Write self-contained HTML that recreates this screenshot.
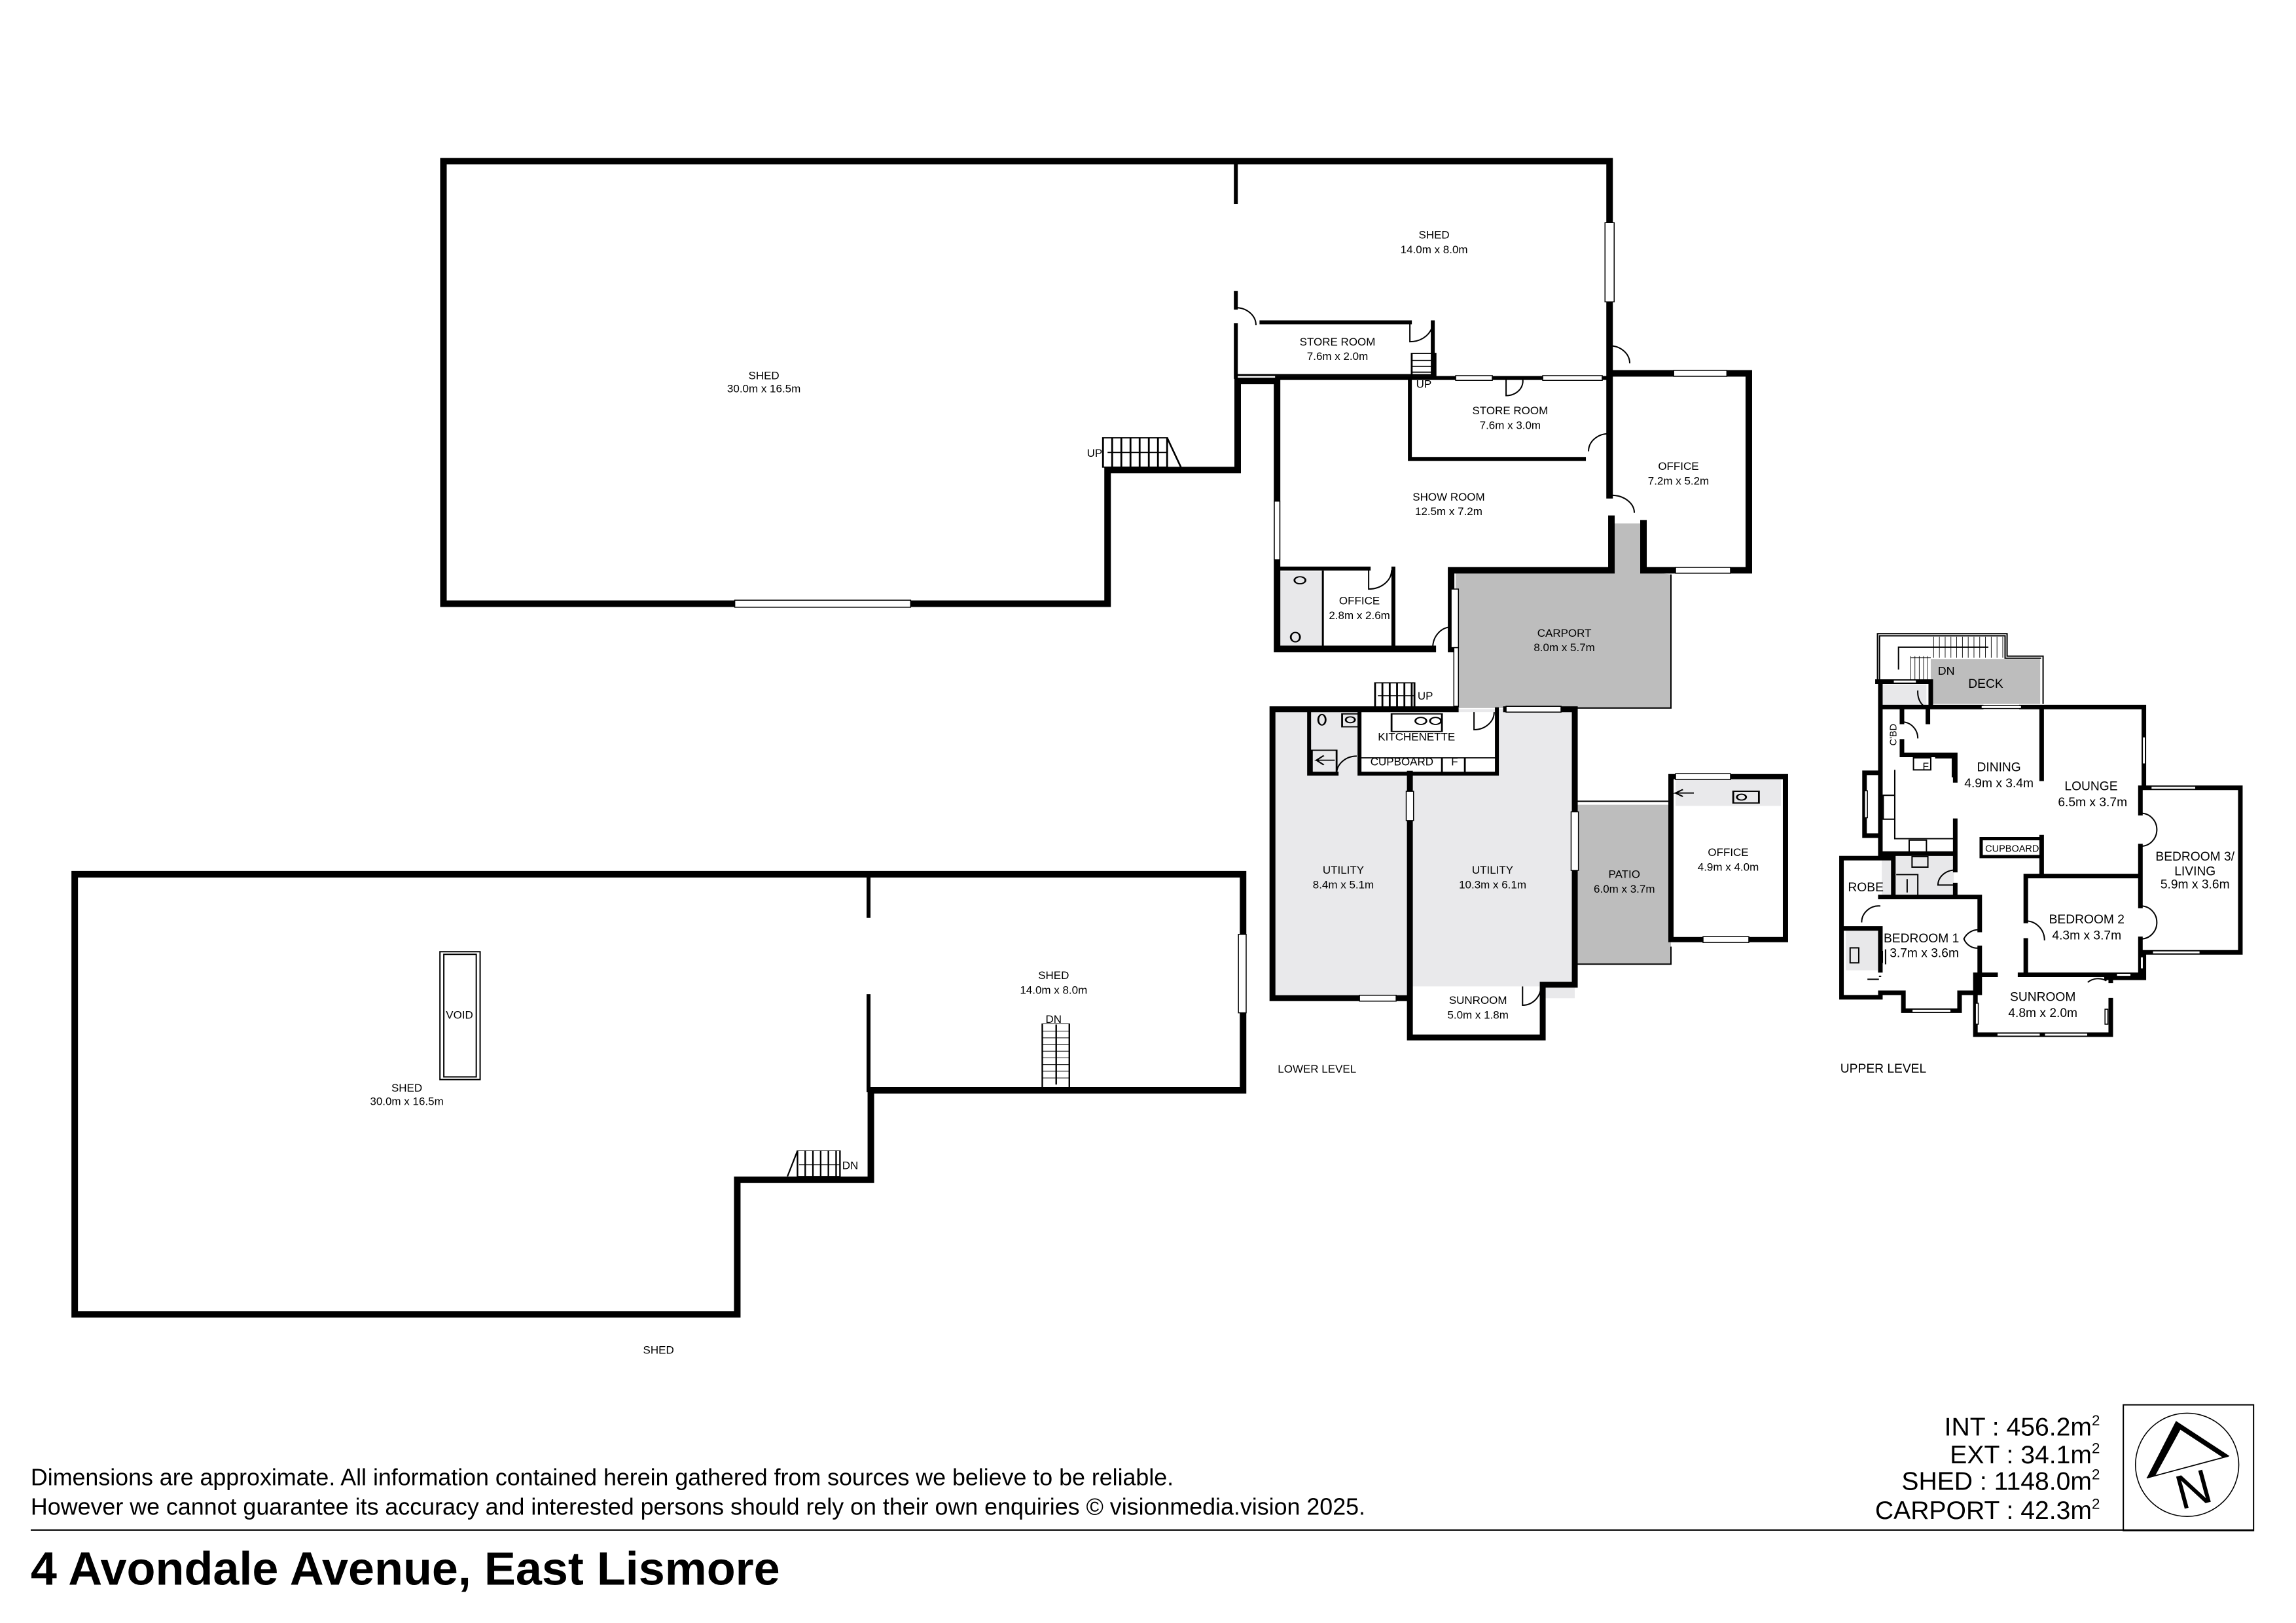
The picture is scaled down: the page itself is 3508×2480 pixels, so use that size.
<!DOCTYPE html>
<html><head><meta charset="utf-8"><style>
html,body{margin:0;padding:0;background:#fff}
svg{display:block}
text{font-family:"Liberation Sans",sans-serif;fill:#000}
.w{fill:none;stroke:#000;vector-effect:non-scaling-stroke;stroke-linecap:square}
.t{fill:none;stroke:#000;stroke-width:2;vector-effect:non-scaling-stroke}
.win{fill:#fff;stroke:#000;stroke-width:1.5;vector-effect:non-scaling-stroke}
.l{font-size:7.6px;text-anchor:middle}
.u{font-size:8.6px;text-anchor:middle}
</style></head><body>
<svg width="3508" height="2480" viewBox="0 0 1569 1109" xmlns="http://www.w3.org/2000/svg">
<rect width="1569" height="1109" fill="#fff"/>

<g transform="translate(268.6,90) scale(0.626,0.4006)">
 <rect x="968" y="750" width="47" height="130" fill="#e8e8ea"/>
 <polygon points="1160,748 1330,748 1330,668 1365,668 1365,750 1395,755 1395,983 1160,983" fill="#bdbdbd"/>
 <rect x="960" y="985" width="330" height="493" fill="#e9e9eb"/>
 <rect x="1055" y="990" width="150" height="105" fill="#fff"/>
 <rect x="1110" y="1458" width="145" height="87" fill="#fff"/>
 <rect x="1290" y="1148" width="105" height="272" fill="#bdbdbd"/>
 <rect x="1400" y="1105" width="115" height="45" fill="#e9e9eb"/>
 <path class="t" d="M1292,1142 H1395 M1292,1420 H1395 V1390 M1395,755 V983 H1290" />
 <path class="w" stroke-width="10" d="M55,50 H1328 V412 M55,50 V805 H780 V577 H922 V425 H965 V882 H1135 M1155,882 V748 H1330 V660 M1365,668 V748 H1480 V412 H1328 V620"/>
 <path class="w" stroke-width="6" d="M920,55 V120 M920,275 V300 M920,330 V418 M948,325 H1110 M1135,325 V415 M965,420 H1328 M1110,420 V558 H1300 M965,745 H1065 M1092,745 V882"/>
 <path class="w" stroke-width="3" d="M920,415 H1135 M1015,750 V882"/>
 <path class="w" stroke-width="9" d="M960,985 H1160 M1215,985 H1290 V1455 H1255 M960,985 V1478 H1110 M1110,1095 V1545 H1255 V1455"/>
 <path class="w" stroke-width="6" d="M1000,985 V1095 H1030 M1055,1095 H1205 V985 M1055,990 V1095"/>
 <path class="w" stroke-width="8" d="M1395,1100 H1520 V1378 H1395 Z"/>
 <rect class="win" x="373" y="799" width="192" height="12"/>
 <rect class="win" x="1323" y="155" width="10" height="135"/>
 <rect class="win" x="962" y="630" width="6" height="100"/>
 <rect class="win" x="1398" y="407" width="58" height="10"/>
 <rect class="win" x="1400" y="743" width="60" height="10"/>
 <rect class="win" x="1215" y="980" width="60" height="10"/>
 <rect class="win" x="1055" y="1473" width="40" height="10"/>
 <rect class="win" x="1160" y="416" width="40" height="8"/>
 <rect class="win" x="1255" y="416" width="65" height="8"/>
 <rect class="win" x="1106" y="1125" width="8" height="50"/>
 <rect class="win" x="1286" y="1160" width="8" height="100"/>
 <rect class="win" x="1155" y="780" width="8" height="100"/>
 <rect class="win" x="1158" y="880" width="5" height="100"/>
 <rect class="win" x="1400" y="1095" width="60" height="10"/>
 <rect class="win" x="1430" y="1373" width="50" height="10"/>
 <path class="t" d="M920,300 A22,30 0 0 1 942,330 M1110,325 V358 A25,33 0 0 0 1135,325 M1328,365 A22,30 0 0 1 1350,395 M1215,420 V450 A18,25 0 0 0 1233,420 M1328,515 A22,30 0 0 0 1305,545 M1330,620 A25,30 0 0 1 1355,650 M1065,748 V780 A25,32 0 0 0 1090,748 M1135,880 A20,35 0 0 1 1155,845 M1180,990 V1020 A22,30 0 0 0 1202,990 M1233,1458 V1490 A20,32 0 0 0 1253,1458 M1030,1095 A22,30 0 0 1 1052,1065"/>
 <g class="t"><rect x="775" y="522" width="70" height="50"/>
 <path d="M785,522V572M795,522V572M805,522V572M815,522V572M825,522V572M835,522V572M845,522 L860,572 M780,547 H845"/>
 <rect x="1072" y="940" width="43" height="45"/>
 <path d="M1080,940V985M1088,940V985M1096,940V985M1104,940V985M1112,940V985M1075,962H1115"/>
 <rect x="1112" y="378" width="26" height="40"/>
 <path d="M1112,390H1138M1112,400H1138M1112,410H1138"/></g>
 <g class="t"><circle cx="990" cy="765" r="6"/><ellipse cx="985" cy="862" rx="5" ry="8"/>
 <rect x="1090" y="993" width="55" height="30"/><circle cx="1122" cy="1005" r="6"/><circle cx="1138" cy="1005" r="6"/>
 <path d="M1055,1068 H1205 M1145,1068 V1095 M1170,1068 V1095"/>
 <rect x="1003" y="1055" width="27" height="38"/><path d="M1028,1072 H1008 l8,-8 M1008,1072 l8,8"/>
 <rect x="1036" y="993" width="18" height="22"/><circle cx="1045" cy="1003" r="5"/><ellipse cx="1014" cy="1003" rx="4" ry="9"/>
 <rect x="1463" y="1125" width="28" height="20"/><circle cx="1472" cy="1135" r="5"/><path d="M1420,1128 H1400 l8,-6 M1400,1128 l8,6"/></g>
</g>

<g transform="translate(44.72,581.4) scale(0.5277,0.2282)">
 <path class="w" stroke-width="10" d="M12,70 H1525 V717 H1043 V985 H870 V1388 H12 Z"/>
 <path class="w" stroke-width="6" d="M1040,75 V195 M1040,435 V717"/>
 <rect class="win" x="1519" y="250" width="10" height="235"/>
 <rect class="t" x="485" y="302" width="52" height="383"/>
 <rect class="t" x="490" y="310" width="42" height="367"/>
 <g class="t"><rect x="1265" y="518" width="35" height="192"/>
 <path d="M1265,540H1300M1265,560H1300M1265,580H1300M1265,600H1300M1265,620H1300M1265,640H1300M1265,660H1300M1265,680H1300M1283,520V700"/>
 <rect x="948" y="898" width="55" height="77"/>
 <path d="M958,898V975M968,898V975M978,898V975M988,898V975M998,898V975M948,898 L935,975 M950,940H1003"/></g>
</g>

<g transform="translate(1252.5,424.8) scale(0.1968,0.2045)">
 <rect x="340" y="125" width="380" height="150" fill="#bdbdbd"/>
 <rect x="170" y="210" width="155" height="75" fill="#e8e8ea"/>
 <rect x="170" y="780" width="250" height="135" fill="#e8e8ea"/>
 <rect x="45" y="1030" width="115" height="135" fill="#e8e8ea"/>
 <path class="t" d="M155,195 V40 H605 V115 H730 V275 M162,195 V47 H598 V122 H723 M228,160 V85 H540"/>
 <g class="t"><path d="M270,115V200M285,115V200M300,115V200M315,115V200M330,115V200M350,50V120M370,50V120M390,50V120M410,50V120M430,50V120M450,50V120M470,50V120M490,50V120M510,50V120M530,50V120M550,50V120M570,50V120M590,50V120M270,120H340"/></g>
 <path class="w" stroke-width="7" d="M155,200 H340 V285 M165,200 V790 M165,285 H330 M330,285 H515 M655,285 H1080 V555 M330,285 V335 M240,295 V335 M240,400 V445 H425 V530 M425,665 V775 H165 M425,775 V830 M425,880 V915 M725,285 V525 M725,720 V845 M1080,555 H1415 V1105 H1080 V1190 H950 M1068,555 V640 M1068,750 V950 M1068,1060 V1180 M670,850 H1068 M670,850 V1000 M670,1065 V1180 H1068 M165,920 H510 V1030 M510,1090 V1180 H565 M510,1180 V1240 H440 V1300 H245 V1240 H165 V1255 M30,790 H210 V915 M30,790 V1255 H165 M30,1025 H165 V1165 M495,1180 V1380 H965 V1265 M965,1190 V1200 M650,1180 H965 M165,505 H110 V715 H165"/>
 <rect x="515" y="725" width="210" height="60" class="w" stroke-width="5"/>
 <rect class="win" x="515" y="280" width="140" height="10"/>
 <rect class="win" x="210" y="195" width="80" height="10"/>
 <rect class="win" x="1075" y="385" width="10" height="90"/>
 <rect class="win" x="1105" y="550" width="155" height="10"/>
 <rect class="win" x="1110" y="1100" width="165" height="10"/>
 <rect class="win" x="275" y="1295" width="135" height="10"/>
 <rect class="win" x="570" y="1375" width="150" height="10"/>
 <rect class="win" x="735" y="1375" width="150" height="10"/>
 <rect class="win" x="495" y="1275" width="10" height="70"/>
 <rect class="win" x="945" y="1295" width="10" height="50"/>
 <rect class="win" x="985" y="1175" width="50" height="10"/>
 <rect class="win" x="1068" y="1120" width="10" height="40"/>
 <rect class="win" x="110" y="565" width="10" height="90"/>
 <path class="t" d="M330,285 A35,50 0 0 1 295,230 M240,335 A55,55 0 0 1 295,390 M1068,640 A55,55 0 0 1 1125,695 A55,55 0 0 1 1068,750 M1068,950 A55,55 0 0 1 1125,1005 A55,55 0 0 1 1068,1060 M670,1000 A65,65 0 0 1 735,1065 M510,1030 A55,55 0 0 0 455,1060 A50,50 0 0 0 510,1090 M165,950 A60,55 0 0 0 100,1005 M425,830 A60,50 0 0 0 365,880 H425 M950,1200 A60,60 0 0 0 885,1205 M280,455 H340 V495 H280 Z M355,455 H415 V520 M175,580 H215 V660 H175 Z M265,730 H325 V770 H265 Z M275,785 H330 V820 H275 Z M220,845 H295 V915 M258,860 V905 M168,1185 H160 M120,1195 H160 M60,1090 H90 V1140 H60 Z M215,495 V725 H425 M172,1100 V1140 M183,1095 V1145"/>
</g>

<g class="l">
<text x="980" y="163">SHED</text><text x="980" y="173">14.0m x 8.0m</text>
<text x="522" y="259">SHED</text><text x="522" y="268">30.0m x 16.5m</text>
<text x="914" y="236">STORE ROOM</text><text x="914" y="246">7.6m x 2.0m</text>
<text x="1032" y="283">STORE ROOM</text><text x="1032" y="293">7.6m x 3.0m</text>
<text x="1147" y="321">OFFICE</text><text x="1147" y="331">7.2m x 5.2m</text>
<text x="990" y="342">SHOW ROOM</text><text x="990" y="352">12.5m x 7.2m</text>
<text x="929" y="413">OFFICE</text><text x="929" y="423">2.8m x 2.6m</text>
<text x="1069" y="435">CARPORT</text><text x="1069" y="445">8.0m x 5.7m</text>
<text x="918" y="597">UTILITY</text><text x="918" y="607">8.4m x 5.1m</text>
<text x="1020" y="597">UTILITY</text><text x="1020" y="607">10.3m x 6.1m</text>
<text x="1110" y="600">PATIO</text><text x="1110" y="610">6.0m x 3.7m</text>
<text x="1181" y="585">OFFICE</text><text x="1181" y="595">4.9m x 4.0m</text>
<text x="1010" y="686">SUNROOM</text><text x="1010" y="696">5.0m x 1.8m</text>
<text x="720" y="669">SHED</text><text x="720" y="679">14.0m x 8.0m</text>
<text x="720" y="699">DN</text>
<text x="278" y="746">SHED</text><text x="278" y="755">30.0m x 16.5m</text>
<text x="314" y="696">VOID</text>
<text x="581" y="799">DN</text>
<text x="450" y="925">SHED</text>
<text x="748" y="312">UP</text>
<text x="973" y="265">UP</text>
<text x="974" y="478">UP</text>
<text x="968" y="506">KITCHENETTE</text>
<text x="958" y="523">CUPBOARD</text><text x="994" y="523">F</text>
<text x="900" y="733">LOWER LEVEL</text>
</g>
<g class="u">
<text x="1330" y="461" style="font-size:8px">DN</text>
<text x="1357" y="470">DECK</text>
<text x="1366" y="527">DINING</text><text x="1366" y="538">4.9m x 3.4m</text>
<text x="1429" y="540">LOUNGE</text><text x="1430" y="551">6.5m x 3.7m</text>
<text x="1500" y="588">BEDROOM 3/</text><text x="1500" y="598">LIVING</text><text x="1500" y="607">5.9m x 3.6m</text>
<text x="1426" y="631">BEDROOM 2</text><text x="1426" y="642">4.3m x 3.7m</text>
<text x="1313" y="644">BEDROOM 1</text><text x="1315" y="654">3.7m x 3.6m</text>
<text x="1275" y="609">ROBE</text>
<text x="1396" y="684">SUNROOM</text><text x="1396" y="695">4.8m x 2.0m</text>
<text x="1375" y="582" style="font-size:6.5px">CUPBOARD</text>
<text x="1316" y="526" style="font-size:7px">F</text>
<text x="1296" y="502" style="font-size:6.5px" transform="rotate(-90 1296 502)">C'BD</text>
<text x="1287" y="733" style="font-size:8.6px">UPPER LEVEL</text>
</g>

<text x="21" y="1015" style="font-size:16px" textLength="781" lengthAdjust="spacingAndGlyphs">Dimensions are approximate. All information contained herein gathered from sources we believe to be reliable.</text>
<text x="21" y="1035" style="font-size:16px" textLength="912" lengthAdjust="spacingAndGlyphs">However we cannot guarantee its accuracy and interested persons should rely on their own enquiries © visionmedia.vision 2025.</text>
<line x1="21" y1="1045.6" x2="1540" y2="1045.6" stroke="#000" stroke-width="0.9"/>
<text x="21" y="1083" style="font-size:32px;font-weight:bold" textLength="512" lengthAdjust="spacingAndGlyphs">4 Avondale Avenue, East Lismore</text>

<g style="font-size:17.5px;text-anchor:end">
<text x="1435" y="981">INT : 456.2m<tspan dy="-7" style="font-size:10px">2</tspan></text>
<text x="1435" y="1000">EXT : 34.1m<tspan dy="-7" style="font-size:10px">2</tspan></text>
<text x="1435" y="1018">SHED : 1148.0m<tspan dy="-7" style="font-size:10px">2</tspan></text>
<text x="1435" y="1038">CARPORT : 42.3m<tspan dy="-7" style="font-size:10px">2</tspan></text>
</g>
<rect x="1451" y="960" width="89" height="86" fill="none" stroke="#000" stroke-width="0.9"/>
<circle cx="1494.6" cy="1001" r="35.3" fill="none" stroke="#000" stroke-width="0.7"/>
<polygon points="1487,971 1523.6,995 1519,996 1490,977 1473,1008 1467,1010" fill="#000"/>
<line x1="1467" y1="1010" x2="1523" y2="995" stroke="#000" stroke-width="0.8"/>
<text x="1499" y="1029" style="font-size:33px;text-anchor:middle" transform="rotate(-15 1499 1018)">N</text>
</svg>
</body></html>
